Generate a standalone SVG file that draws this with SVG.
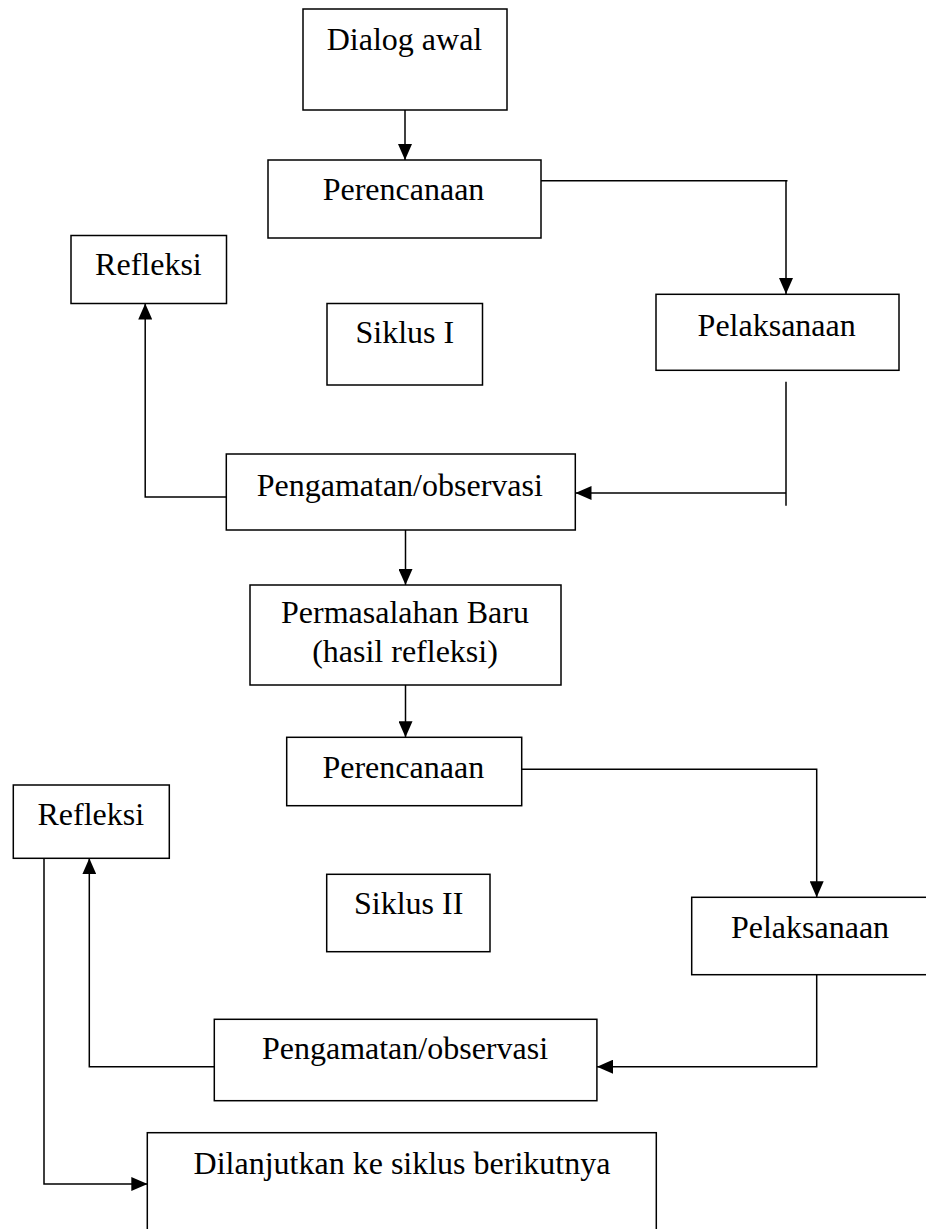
<svg xmlns="http://www.w3.org/2000/svg" width="926" height="1229" viewBox="0 0 926 1229">
<style>
  .box { fill: #ffffff; stroke: #000000; stroke-width: 1.5; }
  .lbl { font-family: "Liberation Serif", "Times New Roman", serif; font-size: 32px; fill: #000000; text-anchor: middle; }
  .con { fill: none; stroke: #000000; stroke-width: 1.5; }
</style>
<defs>
  <marker id="arr" viewBox="0 0 16 14" refX="16" refY="7" markerWidth="16" markerHeight="14" markerUnits="userSpaceOnUse" orient="auto">
    <path d="M0,0 L16,7 L0,14 z" fill="#000000"/>
  </marker>
</defs>
<rect width="926" height="1229" fill="#ffffff"/>

<g id="connectors">
  <path class="con" d="M405,110 V160" marker-end="url(#arr)"/>
  <path class="con" d="M541,180.7 H787.5 M786,180 V294" marker-end="url(#arr)"/>
  <path class="con" d="M786,381.7 V505.7"/>
  <path class="con" d="M786,493 H575.5" marker-end="url(#arr)"/>
  <path class="con" d="M226.3,497 H145.2 V303.5" marker-end="url(#arr)"/>
  <path class="con" d="M405.5,530 V585" marker-end="url(#arr)"/>
  <path class="con" d="M405.5,685 V737.3" marker-end="url(#arr)"/>
  <path class="con" d="M521.7,769.3 H816.7 V897.3" marker-end="url(#arr)"/>
  <path class="con" d="M816.7,974.7 V1066.7 H597" marker-end="url(#arr)"/>
  <path class="con" d="M214.3,1066.7 H89.3 V858.3" marker-end="url(#arr)"/>
  <path class="con" d="M44,858.3 V1184 H147.3" marker-end="url(#arr)"/>
</g>

<g id="dialog-awal">
  <rect class="box" x="303" y="9" width="204" height="101"/>
  <text class="lbl" x="404.5" y="50">Dialog awal</text>
</g>
<g id="perencanaan-1">
  <rect class="box" x="268" y="160" width="273" height="78"/>
  <text class="lbl" x="403.5" y="200">Perencanaan</text>
</g>
<g id="refleksi-1">
  <rect class="box" x="71" y="235.5" width="155.5" height="68"/>
  <text class="lbl" x="148.4" y="275">Refleksi</text>
</g>
<g id="siklus-1">
  <rect class="box" x="327" y="303.5" width="155.5" height="81.5"/>
  <text class="lbl" x="404.8" y="343.3">Siklus I</text>
</g>
<g id="pelaksanaan-1">
  <rect class="box" x="656" y="294.3" width="243" height="76"/>
  <text class="lbl" x="776.7" y="335.7">Pelaksanaan</text>
</g>
<g id="pengamatan-1">
  <rect class="box" x="226.3" y="454" width="349" height="76"/>
  <text class="lbl" x="399.8" y="495.5">Pengamatan/observasi</text>
</g>
<g id="permasalahan-baru">
  <rect class="box" x="250" y="585" width="311" height="100"/>
  <text class="lbl" x="405" y="623.3">Permasalahan Baru</text>
  <text class="lbl" x="405" y="661.7">(hasil refleksi)</text>
</g>
<g id="perencanaan-2">
  <rect class="box" x="286.7" y="737.3" width="235" height="68.4"/>
  <text class="lbl" x="403.3" y="778.3">Perencanaan</text>
</g>
<g id="refleksi-2">
  <rect class="box" x="13.3" y="785" width="156" height="73.3"/>
  <text class="lbl" x="90.8" y="825">Refleksi</text>
</g>
<g id="siklus-2">
  <rect class="box" x="326.7" y="874.3" width="163.3" height="77.4"/>
  <text class="lbl" x="408.7" y="914.3">Siklus II</text>
</g>
<g id="pelaksanaan-2">
  <rect class="box" x="691.7" y="897.3" width="250" height="77.4"/>
  <text class="lbl" x="810" y="938.3">Pelaksanaan</text>
</g>
<g id="pengamatan-2">
  <rect class="box" x="214.3" y="1019.3" width="382.6" height="81.4"/>
  <text class="lbl" x="405" y="1059">Pengamatan/observasi</text>
</g>
<g id="dilanjutkan">
  <rect class="box" x="147.3" y="1132.7" width="509" height="120"/>
  <text class="lbl" x="402" y="1173.5">Dilanjutkan ke siklus berikutnya</text>
</g>
</svg>
